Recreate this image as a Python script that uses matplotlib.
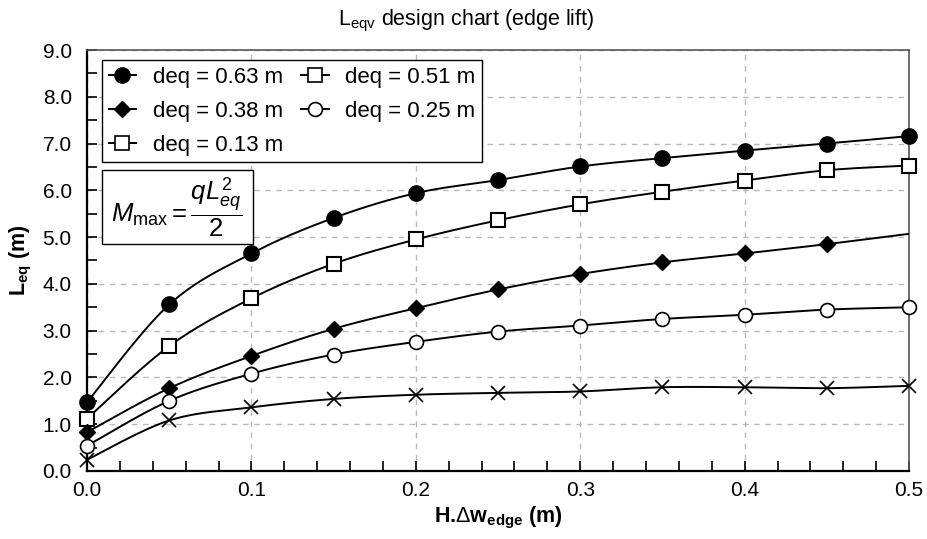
import numpy as np
import matplotlib
matplotlib.use("Agg")
import matplotlib.pyplot as plt
from matplotlib.lines import Line2D
from matplotlib.patches import Rectangle
from matplotlib.ticker import MultipleLocator, FormatStrFormatter

plt.rcParams['font.family'] = ['Liberation Sans', 'DejaVu Sans']
plt.rcParams['mathtext.fontset'] = 'custom'
plt.rcParams['mathtext.rm'] = 'Liberation Sans'
plt.rcParams['mathtext.it'] = 'Liberation Sans:italic'
plt.rcParams['mathtext.bf'] = 'Liberation Sans:bold'

# Edge lift H.Δw_edge (m)
edge_lift = [0.0, 0.05, 0.10, 0.15, 0.20, 0.25, 0.30, 0.35, 0.40, 0.45, 0.50]

# Equivalent length L_eq (m) for each equivalent depth
leq_063 = [1.47, 3.56, 4.65, 5.41, 5.94, 6.22, 6.51, 6.69, 6.85, 7.00, 7.16]
leq_051 = [1.12, 2.67, 3.69, 4.43, 4.95, 5.36, 5.70, 5.97, 6.21, 6.43, 6.53]
leq_038 = [0.83, 1.77, 2.46, 3.04, 3.48, 3.88, 4.21, 4.46, 4.65, 4.85, 5.07]
leq_025 = [0.54, 1.50, 2.08, 2.49, 2.76, 2.98, 3.11, 3.25, 3.34, 3.45, 3.50]
leq_013 = [0.24, 1.08, 1.36, 1.54, 1.63, 1.67, 1.70, 1.79, 1.79, 1.77, 1.82]

labels = ["deq = 0.63 m", "deq = 0.51 m", "deq = 0.38 m",
          "deq = 0.25 m", "deq = 0.13 m"]


def smooth(xs, ys, n=30):
    """Smoothed polyline through the points (cubic Bezier, Catmull-Rom tangents)."""
    p = np.column_stack([xs, ys]).astype(float)
    ext = np.vstack([p[0], p, p[-1]])
    t = np.linspace(0, 1, n)[:, None]
    segs = []
    for i in range(len(p) - 1):
        p0, p1, p2, p3 = ext[i], ext[i + 1], ext[i + 2], ext[i + 3]
        c1 = p1 + (p2 - p0) / 6.0
        c2 = p2 - (p3 - p1) / 6.0
        b = ((1 - t) ** 3) * p1 + 3 * ((1 - t) ** 2) * t * c1 \
            + 3 * (1 - t) * t ** 2 * c2 + t ** 3 * p2
        segs.append(b if i == 0 else b[1:])
    s = np.vstack(segs)
    return s[:, 0], s[:, 1]


fig = plt.figure(figsize=(9.27, 5.39), dpi=100)
ax = fig.add_axes([0.0939, 0.1262, 0.8867, 0.781])

lw = 1.4
series = [
    (leq_063, dict(marker='o', ms=11, mfc='black', mec='black'), None),
    (leq_051, dict(marker='s', ms=10, mfc='white', mec='black', mew=1.5), None),
    (leq_038, dict(marker='D', ms=8, mfc='black', mec='black'), slice(0, 10)),
    (leq_025, dict(marker='o', ms=10, mfc='white', mec='black', mew=1.2), None),
    (leq_013, dict(marker='x', ms=10, mec='black', mew=1.2), None),
]

for ys, mk, every in series:
    sx, sy = smooth(edge_lift, ys)
    ax.plot(sx, sy, color='black', lw=lw, zorder=3)
    xs = edge_lift if every is None else edge_lift[every]
    yv = ys if every is None else ys[every]
    ax.plot(xs, yv, ls='none', zorder=4, clip_on=False, **mk)

ax.set_xlim(0, 0.5)
ax.set_ylim(0, 9.0)
ax.xaxis.set_major_locator(MultipleLocator(0.1))
ax.xaxis.set_minor_locator(MultipleLocator(0.02))
ax.yaxis.set_major_locator(MultipleLocator(1.0))
ax.yaxis.set_minor_locator(MultipleLocator(0.5))
ax.xaxis.set_major_formatter(FormatStrFormatter('%.1f'))
ax.yaxis.set_major_formatter(FormatStrFormatter('%.1f'))

ax.tick_params(which='both', direction='in', length=7, width=1.2,
               labelsize=15, color='black', top=False, right=False)
ax.tick_params(axis='y', pad=11)
ax.tick_params(axis='x', pad=7)

ax.grid(True, which='major', color='#b8b8b8', ls=(0, (4, 4)), lw=1.0)
ax.set_axisbelow(True)

for side in ('left', 'bottom'):
    ax.spines[side].set_color('black')
    ax.spines[side].set_linewidth(1.6)
for side in ('top', 'right'):
    ax.spines[side].set_color('#555555')
    ax.spines[side].set_linewidth(1.2)

ax.set_xlabel(r'H.$\Delta$w$_{\mathbf{edge}}$ (m)', fontsize=15.5,
              fontweight='bold', labelpad=4)
ax.set_ylabel(r'L$_{\mathbf{eq}}$ (m)', fontsize=15.5, fontweight='bold',
              labelpad=6)
fig.text(0.503, 0.962, r'L$_{\mathregular{eqv}}$ design chart (edge lift)',
         ha='center', va='center', fontsize=15.5)

# Legend (two columns, row-wise order)
def handle(mk):
    return Line2D([], [], color='black', lw=lw, **mk)

h063 = handle(dict(marker='o', ms=11, mfc='black', mec='black'))
h051 = handle(dict(marker='s', ms=10, mfc='white', mec='black', mew=1.2))
h038 = handle(dict(marker='D', ms=8, mfc='black', mec='black'))
h025 = handle(dict(marker='o', ms=10, mfc='white', mec='black', mew=1.2))
h013 = handle(dict(marker='s', ms=10, mfc='white', mec='black', mew=1.2))

leg = ax.legend([h063, h038, h013, h051, h025],
                [labels[0], labels[2], labels[4], labels[1], labels[3]],
                ncol=2, loc='upper left', mode='expand',
                bbox_to_anchor=(0.018, 0.729, 0.463, 0.247),
                borderaxespad=0, fontsize=16, handlelength=1.25,
                handletextpad=0.75, labelspacing=0.58, borderpad=0.3,
                fancybox=False, framealpha=1, edgecolor='black')
leg.get_frame().set_linewidth(1.0)
leg.set_zorder(6)

# Bending moment formula box
ax.add_patch(Rectangle((0.018, 0.540), 0.184, 0.175, transform=ax.transAxes,
                       facecolor='white', edgecolor='black', lw=1.0,
                       zorder=5))
ax.text(0.109, 0.627, r'$M_{\mathrm{max}} = \dfrac{qL_{eq}^{2}}{2}$',
        transform=ax.transAxes, ha='center', va='center', fontsize=18.5,
        zorder=7)

fig.savefig('out.png', dpi=100)
